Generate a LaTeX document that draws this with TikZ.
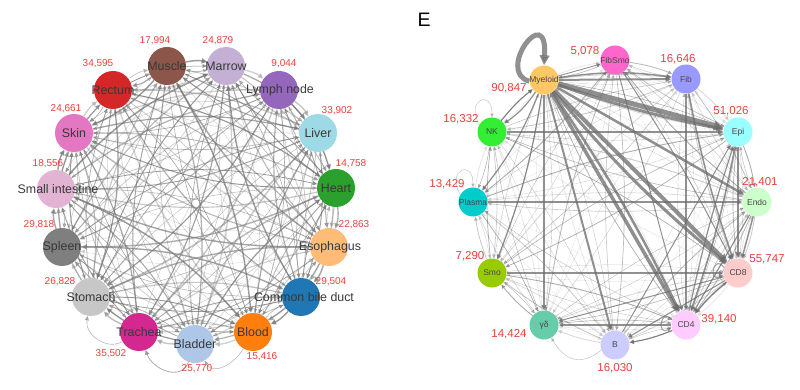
\documentclass[tikz,border=0pt]{standalone}
\usepackage{fontspec}
\setmainfont{Liberation Sans}
\usetikzlibrary{arrows.meta,backgrounds}
\definecolor{numred}{HTML}{E8413C}
\definecolor{cMuscle}{HTML}{8C564B}
\definecolor{cMarrow}{HTML}{C5B0D5}
\definecolor{cLymph}{HTML}{9467BD}
\definecolor{cLiver}{HTML}{9EDAE5}
\definecolor{cHeart}{HTML}{2CA02C}
\definecolor{cEso}{HTML}{FFBB78}
\definecolor{cCBD}{HTML}{1F77B4}
\definecolor{cBlood}{HTML}{FF7F0E}
\definecolor{cBladder}{HTML}{AEC7E8}
\definecolor{cTrachea}{HTML}{D2288F}
\definecolor{cStomach}{HTML}{C7C7C7}
\definecolor{cSpleen}{HTML}{7F7F7F}
\definecolor{cSmall}{HTML}{E2B3D3}
\definecolor{cSkin}{HTML}{E377C2}
\definecolor{cRectum}{HTML}{D62728}
\definecolor{cMy}{HTML}{FFC766}
\definecolor{cFS}{HTML}{FF66CC}
\definecolor{cFib}{HTML}{9999FF}
\definecolor{cEpi}{HTML}{99FFFF}
\definecolor{cEndo}{HTML}{CCFFCC}
\definecolor{cCD8}{HTML}{FFCCCC}
\definecolor{cCD4}{HTML}{FFCCFF}
\definecolor{cB}{HTML}{CCCCFF}
\definecolor{cGD}{HTML}{66CCAA}
\definecolor{cSmo}{HTML}{99CC00}
\definecolor{cPl}{HTML}{00CCCC}
\definecolor{cNK}{HTML}{33EE33}
\begin{document}
\begin{tikzpicture}[x=1pt,y=-1pt,
  lnode/.style={circle, minimum size=38pt, inner sep=0pt},
  rnode/.style={circle, minimum size=29pt, inner sep=0pt},
  ltext/.style={font=\fontsize{12.4}{14}\selectfont, text=black!78, inner sep=0pt},
  rtext/.style={font=\fontsize{8.5}{10}\selectfont, text=black!72, inner sep=0pt},
  lnum/.style={font=\fontsize{10}{12}\selectfont, text=numred, inner sep=0pt},
  rnum/.style={font=\fontsize{11.5}{13}\selectfont, text=numred, inner sep=0pt},
  ledge/.style={draw=black!55, -{Triangle[length={3.5pt 1.5},width={3pt 1.5}]}},
  redge/.style={draw=black!58, -{Triangle[length={3pt 1.4},width={2.6pt 1.4}]}}
]
\useasboundingbox (0,0) rectangle (800,390);
% ---------------- left network ----------------
\foreach \n/\x/\y/\c/\t/\num/\nx/\ny in {
 1/167/66/cMuscle/Muscle/{17,994}/155/41,
 2/226/66/cMarrow/Marrow/{24,879}/218/41,
 3/279/90/cLymph/Lymph node/{9,044}/284/64,
 4/318/133/cLiver/Liver/{33,902}/337/111,
 5/336/188/cHeart/Heart/{14,758}/351/164,
 6/329/247/cEso/Esophagus/{22,863}/354/225,
 7/301/297/cCBD/Common bile duct/{29,504}/331/282,
 8/253/332/cBlood/Blood/{15,416}/262/357,
 9/195/344/cBladder/Bladder/{25,770}/197/369,
 10/139/332/cTrachea/Trachea/{35,502}/111/354,
 11/91/297/cStomach/Stomach/{26,828}/60/282,
 12/62/247/cSpleen/Spleen/{29,818}/39/225,
 13/56/189/cSmall/Small intestine/{18,556}/48/164,
 14/74/133/cSkin/Skin/{24,661}/66/109,
 15/113/90/cRectum/Rectum/{34,595}/98/64}{
  \node[lnode, fill=\c] (L\n) at (\x,\y) {};
  \node[lnum] (L\n num) at (\nx,\ny) {\num};
}
\foreach \n/\t/\dx in {1/Muscle/0,2/Marrow/0,3/Lymph node/1,4/Liver/0,5/Heart/0,6/Esophagus/1,
  7/Common bile duct/3,8/Blood/0,9/Bladder/0,10/Trachea/0,11/Stomach/0,12/Spleen/0,
  13/Small intestine/2,14/Skin/0,15/Rectum/0}{
  \node[ltext] (L\n txt) at ([xshift=\dx pt]L\n.center) {\t};
}
\begin{pgfonlayer}{background}
\foreach \i in {1,...,15}{
 \foreach \j in {1,...,15}{
  \pgfmathtruncatemacro{\keep}{mod(\i*5+\j*3,7)}
  \ifnum\i=\j\relax\else\ifnum\keep>0
   \pgfmathsetmacro{\w}{0.3+0.22*mod(\i*7+\j*5,6)}
   \pgfmathsetmacro{\op}{0.32+0.08*mod(\i*3+\j*4,6)}
   \draw[ledge, line width=\w pt, opacity=\op] (L\i) to[bend left=12] (L\j);
  \fi\fi
 }}
\draw[ledge, line width=0.8pt, opacity=0.6] (L9) to[out=-110,in=-70,looseness=1.2] (L10);
\draw[ledge, line width=0.6pt, opacity=0.5] (L8) to[out=-120,in=-60,looseness=1.1] (L9);
\draw[ledge, line width=0.6pt, opacity=0.5] (L10) to[out=-150,in=-100,looseness=1.1] (L11);
\end{pgfonlayer}
% ---------------- right network ----------------
\node[font=\fontsize{19.5}{20}\selectfont, inner sep=0pt] (E) at (424,20) {E};
\foreach \n/\x/\y/\c/\t/\num/\nx/\ny in {
 1/544/80/cMy/Myeloid/{90,847}/509/88,
 2/615/60/cFS/FibSmo/{5,078}/585/51,
 3/686/79/cFib/Fib/{16,646}/678/59,
 4/738/132/cEpi/Epi/{51,026}/731/111,
 5/757/202/cEndo/Endo/{21,401}/760/182,
 6/738/273/cCD8/CD8/{55,747}/767/259,
 7/686/325/cCD4/CD4/{39,140}/719/319,
 8/615/345/cB/B/{16,030}/615/368,
 9/544/325/cGD/γδ/{14,424}/509/334,
 10/492/273/cSmo/Smo/{7,290}/470/256,
 11/473/202/cPl/Plasma/{13,429}/447/184,
 12/492/132/cNK/NK/{16,332}/461/119}{
  \node[rnode, fill=\c] (R\n) at (\x,\y) {};
  \node[rnum] (R\n num) at (\nx,\ny) {\num};
  \node[rtext] (R\n txt) at (R\n.center) {\t};
}
\begin{pgfonlayer}{background}
\foreach \i in {1,...,12}{
 \foreach \j in {1,...,12}{
  \pgfmathtruncatemacro{\keep}{mod(\i*3+\j*7,5)}
  \ifnum\i=\j\relax\else\ifnum\keep>0
   \pgfmathsetmacro{\w}{0.3+0.2*mod(\i*5+\j*3,4)}
   \pgfmathsetmacro{\op}{0.15+0.1*mod(\i+\j*2,5)}
   \draw[redge, line width=\w pt, opacity=\op] (R\i) to[bend left=6] (R\j);
  \fi\fi
 }}
\foreach \a/\b/\w/\bd in {1/4/5/0, 1/4/3/-4, 1/6/4/0, 1/6/3/-5, 1/7/3.5/0, 1/7/2.5/4, 1/5/2.5/0,
  1/3/2/0, 1/3/1.5/8, 1/8/2/0, 1/9/1.6/0, 1/10/1.2/6, 1/11/1.2/8, 1/12/1.2/10, 12/1/1/6, 1/2/0.9/0,
  4/6/2.5/0, 4/7/1.6/4, 3/6/1.5/-4, 3/7/1.2/0, 5/6/1.5/0, 6/7/1.5/-6, 6/8/1.1/0, 12/4/1.5/0,
  11/5/1.1/0, 10/6/1.1/0, 7/9/1.1/0, 7/8/1.1/6, 6/9/1/0, 2/7/1/0, 2/6/1/3, 5/7/1.2/0, 7/4/1.2/3, 8/4/1/0}{
  \draw[redge, line width=\w pt, opacity=0.75] (R\a) to[bend left=\bd] (R\b);
}
\draw[redge, line width=5pt, opacity=0.75] (R1.185) .. controls (495,72) and (548,0) .. (R1.north);
\draw[redge, line width=0.5pt, opacity=0.4] (R12.150) to[out=120,in=90,looseness=5] (R12.north);
\draw[redge, line width=0.5pt, opacity=0.4] (R11.150) to[out=120,in=90,looseness=5] (R11.north);
\draw[redge, line width=1pt, opacity=0.6] (R6.160) to[out=120,in=200,looseness=6] (R6.190);
\draw[redge, line width=1pt, opacity=0.6] (R7.160) to[out=130,in=210,looseness=6] (R7.190);
\draw[redge, line width=0.5pt, opacity=0.4] (R8.200) to[out=220,in=-60,looseness=1.3] (R9.-60);
\end{pgfonlayer}
\end{tikzpicture}
\end{document}
